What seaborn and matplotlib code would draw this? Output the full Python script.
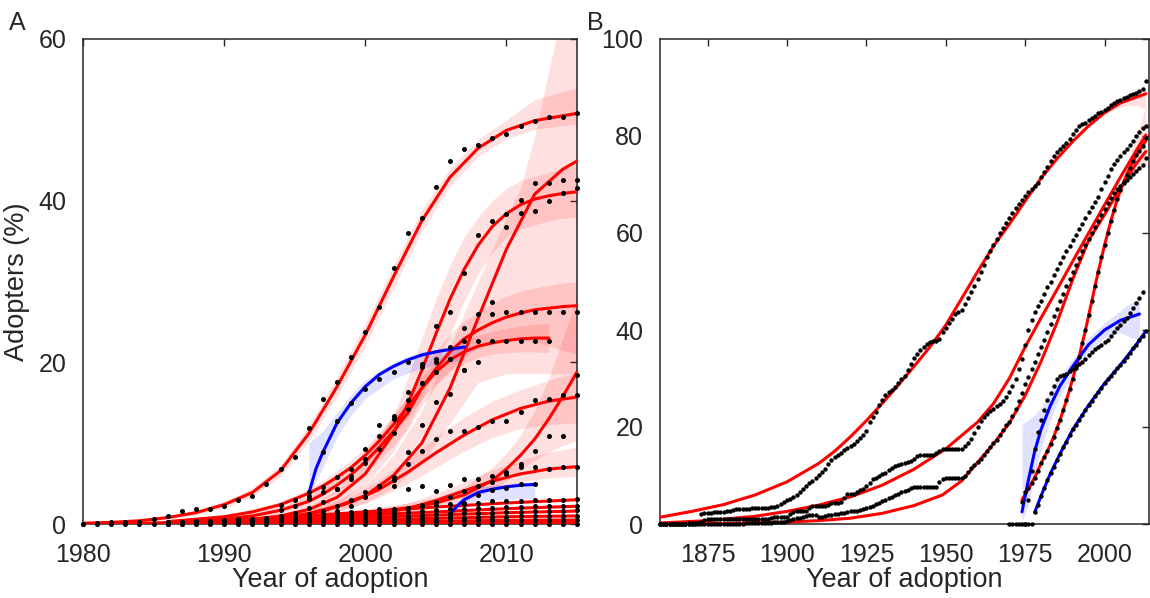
import numpy as np
import pandas as pd
import seaborn as sns
import matplotlib.pyplot as plt

# ---------------- Panel A : fitted curves (year, % adopters) ----------------
a1_x = [1980, 1982, 1984, 1986, 1988, 1990, 1992, 1994, 1996, 1998, 2000, 2002, 2004, 2006, 2008, 2010, 2012, 2014, 2015]
a1_y = [0.1, 0.2, 0.4, 0.8, 1.4, 2.4, 3.9, 6.6, 11.2, 17.0, 23.4, 30.6, 37.5, 42.9, 46.5, 48.7, 49.9, 50.5, 50.8]
a1_lo = [0.0, 0.1, 0.3, 0.6, 1.1, 2.0, 3.4, 5.9, 10.2, 15.8, 22.0, 29.2, 36.2, 41.8, 45.5, 47.7, 48.8, 49.3, 49.5]
a1_hi = [0.2, 0.3, 0.5, 1.0, 1.7, 2.8, 4.4, 7.3, 12.2, 18.2, 24.8, 32.0, 38.8, 44.0, 47.6, 50.0, 52.5, 53.5, 54.0]

a2_x = [1990, 1994, 1996, 1998, 2000, 2002, 2004, 2006, 2008, 2010, 2012, 2014, 2015]
a2_y = [0.3, 0.8, 1.3, 2.2, 3.5, 6.0, 10.0, 16.8, 25.5, 34.0, 40.8, 43.9, 44.9]
a2_bx = [1990, 1994, 1996, 1998, 2000, 2002, 2004, 2006, 2008, 2010, 2011, 2012, 2013, 2014, 2015]
a2_lo = [0.2, 0.5, 0.9, 1.6, 2.6, 4.5, 7.5, 12.5, 17.5, 18.6, 18.6, 18.6, 18.6, 18.6, 18.6]
a2_hi = [0.5, 1.1, 1.8, 3.0, 4.8, 8.5, 14.0, 22.0, 30.0, 38.0, 41.5, 48.0, 56.0, 64.0, 70.0]

a3_x = [1988, 1992, 1994, 1996, 1998, 2000, 2002, 2003, 2004, 2005, 2006, 2007, 2008, 2009, 2010, 2011, 2012, 2013, 2014, 2015]
a3_y = [0.2, 0.6, 1.0, 1.8, 3.3, 6.2, 11.2, 14.8, 19.0, 23.5, 27.8, 31.5, 34.5, 36.8, 38.4, 39.5, 40.2, 40.6, 40.9, 41.1]
a3_lo = [0.1, 0.4, 0.7, 1.3, 2.5, 4.8, 9.0, 12.0, 15.5, 19.5, 23.5, 27.5, 31.0, 33.5, 35.5, 36.5, 37.0, 37.5, 37.8, 38.0]
a3_hi = [0.3, 0.8, 1.3, 2.3, 4.2, 7.8, 13.5, 18.0, 23.0, 27.8, 32.0, 35.5, 38.0, 40.0, 41.5, 42.5, 43.0, 43.5, 44.0, 44.5]

a4_x = [1986, 1990, 1992, 1994, 1996, 1997, 1998, 1999, 2000, 2001, 2002, 2003, 2004, 2005, 2006, 2007, 2008, 2009, 2010, 2011, 2012, 2013, 2014, 2015]
a4_y = [0.2, 0.6, 1.0, 1.7, 2.8, 3.7, 4.8, 6.1, 7.7, 9.5, 11.5, 13.7, 16.8, 19.2, 21.3, 22.9, 24.0, 24.9, 25.6, 26.1, 26.5, 26.7, 26.9, 27.0]
a4_lo = [0.1, 0.4, 0.7, 1.3, 2.2, 2.9, 3.8, 4.9, 6.3, 7.9, 9.7, 11.7, 14.6, 17.0, 19.1, 20.7, 21.8, 22.5, 22.8, 22.8, 22.5, 22.0, 21.5, 21.0]
a4_hi = [0.3, 0.8, 1.3, 2.1, 3.4, 4.5, 5.8, 7.3, 9.1, 11.1, 13.3, 15.7, 19.0, 21.4, 23.5, 25.1, 26.2, 27.3, 28.2, 28.8, 29.2, 29.5, 29.8, 30.0]

a5_x = [1986, 1990, 1992, 1994, 1996, 1997, 1998, 1999, 2000, 2001, 2002, 2003, 2004, 2005, 2006, 2007, 2008, 2009, 2010, 2011, 2012, 2013]
a5_y = [0.3, 0.9, 1.5, 2.4, 3.8, 4.7, 5.8, 7.0, 8.5, 10.3, 12.3, 14.5, 16.8, 18.8, 20.3, 21.3, 22.0, 22.4, 22.7, 22.9, 23.0, 23.0]
a5_lo = [0.2, 0.7, 1.2, 2.0, 3.2, 4.0, 5.0, 6.1, 7.5, 9.2, 11.1, 13.2, 15.4, 17.4, 18.9, 19.9, 20.6, 21.0, 21.2, 21.3, 21.3, 21.2]
a5_hi = [0.4, 1.1, 1.8, 2.8, 4.4, 5.4, 6.6, 7.9, 9.5, 11.4, 13.5, 15.8, 18.2, 20.2, 21.7, 22.7, 23.4, 23.8, 24.2, 24.5, 24.7, 24.8]

a6_x = [1988, 1992, 1994, 1995, 1997, 1999, 2001, 2003, 2005, 2007, 2009, 2011, 2013, 2015]
a6_y = [0.2, 0.5, 0.7, 0.9, 1.6, 2.7, 4.3, 6.4, 8.8, 11.0, 12.9, 14.3, 15.2, 15.7]
a6_lo = [0.1, 0.3, 0.5, 0.6, 1.1, 2.0, 3.3, 5.0, 7.0, 9.0, 10.7, 11.8, 12.3, 12.5]
a6_hi = [0.3, 0.7, 0.9, 1.2, 2.1, 3.5, 5.5, 8.0, 10.8, 13.2, 15.2, 16.6, 17.8, 18.8]

a7_x = [1990, 1995, 2000, 2003, 2005, 2007, 2009, 2010, 2011, 2012, 2013, 2014, 2015]
a7_y = [0.3, 0.7, 1.4, 2.0, 2.6, 3.6, 5.4, 6.8, 8.5, 10.5, 13.0, 15.8, 18.8]
a7_lo = [0.2, 0.5, 1.0, 1.5, 2.0, 2.8, 4.2, 5.3, 6.6, 7.9, 8.9, 9.7, 10.3]
a7_hi = [0.4, 0.9, 1.8, 2.6, 3.3, 4.6, 7.0, 8.8, 11.0, 14.0, 18.0, 23.0, 28.0]

a8_x = [1988, 1992, 1995, 1997, 1999, 2001, 2003, 2005, 2007, 2009, 2011, 2013, 2015]
a8_y = [0.1, 0.2, 0.4, 0.6, 0.9, 1.3, 1.9, 2.9, 4.1, 5.3, 6.2, 6.8, 7.1]
a8_lo = [0.0, 0.1, 0.3, 0.4, 0.6, 0.9, 1.4, 2.2, 3.3, 4.4, 5.2, 5.7, 5.9]
a8_hi = [0.2, 0.3, 0.5, 0.8, 1.2, 1.8, 2.6, 3.8, 5.2, 6.7, 7.9, 8.9, 9.5]

low_x = [1980, 1985, 1990, 1995, 2000, 2005, 2010, 2015]
low1_y = [0.0, 0.1, 0.4, 0.9, 1.5, 2.1, 2.6, 3.0]
low2_y = [0.0, 0.1, 0.3, 0.7, 1.1, 1.5, 1.9, 2.2]
low3_y = [0.0, 0.05, 0.2, 0.5, 0.8, 1.1, 1.4, 1.6]
low4_y = [0.0, 0.02, 0.1, 0.3, 0.5, 0.7, 0.9, 1.0]
low5_y = [0.0, 0.01, 0.05, 0.15, 0.25, 0.35, 0.45, 0.5]
low6_y = [0.0, 0.0, 0.02, 0.05, 0.1, 0.13, 0.17, 0.2]

ab1_x = [1996, 1996.5, 1997, 1998, 1999, 2000, 2001, 2002, 2003, 2004, 2005, 2006, 2007]
ab1_y = [3.8, 6.8, 8.9, 12.5, 15.0, 17.0, 18.5, 19.5, 20.3, 20.9, 21.3, 21.6, 21.9]
ab1_bx = [1996, 1997, 1998, 1999, 2000, 2002, 2004, 2006, 2007]
ab1_lo = [3.5, 7.0, 10.8, 13.5, 15.5, 18.0, 19.3, 20.0, 20.3]
ab1_hi = [10.0, 11.5, 13.8, 16.0, 17.8, 20.0, 21.3, 21.9, 22.2]

ab2_x = [2006, 2006.5, 2007, 2008, 2009, 2010, 2011, 2012]
ab2_y = [1.2, 2.2, 3.0, 3.9, 4.3, 4.6, 4.8, 4.9]
ab2_bx = [2006, 2007, 2008, 2010, 2012]
ab2_lo = [0.8, 2.4, 2.9, 3.1, 3.1]
ab2_hi = [1.8, 3.6, 4.6, 5.0, 5.2]

# ---------------- Panel A : observed points ----------------
a1_dots = [0.0, 0.1, 0.2, 0.2, 0.3, 0.6, 1.0, 1.6, 1.9, 1.9,
           2.2, 3.0, 3.5, 4.9, 6.8, 8.3, 11.9, 15.5, 17.6, 20.7,
           23.8, 26.9, 31.7, 36.0, 37.8, 41.7, 44.9, 46.4, 46.9, 47.7,
           48.2, 49.2, 49.8, 50.4, 50.4, 50.8]                                   # 1980-2015
a2_dots = [0.4, 0.6, 0.9, 1.2, 1.6, 2.2, 3.4, 4.7, 5.5, 8.9, 12.2, 15.1, 16.1, 19.0,
           20.0, 27.5, 36.8, 38.5, 42.2, 42.2, 42.6, 42.6]                      # 1994-2015
a3_dots = [1.0, 1.4, 2.0, 2.7, 4.3, 5.6, 7.6, 10.9, 13.0, 16.3, 19.4, 24.5, 26.2, 31.0,
           35.8, 37.5, 38.3, 40.1, 38.7, 40.0, 41.0, 41.6]                      # 1994-2015
a4_dots = [1.7, 2.2, 3.1, 3.9, 4.3, 6.0, 8.0, 9.3, 11.3, 14.2, 17.5, 20.0, 21.9, 24.3,
           26.0, 26.0, 26.2, 26.2, 26.2, 26.2, 26.2, 26.2]                      # 1994-2015
a5_dots = [2.3, 3.0, 3.9, 4.6, 5.8, 6.8, 9.3, 12.2, 13.4, 15.3, 17.5, 18.8, 20.4, 22.7,
           22.7, 22.7, 22.7, 22.7, 22.7, 22.7]                                  # 1994-2013
a6_dots = [0.6, 0.8, 1.2, 1.6, 2.2, 3.0, 4.0, 4.7, 5.8, 7.4, 9.0, 10.5, 11.5, 11.5,
           12.0, 12.8, 12.8, 13.8, 15.3, 15.5, 15.9, 15.9]                      # 1994-2015
a7_dots = [1.2, 1.4, 1.7, 2.0, 2.3, 2.7, 3.3, 4.1, 4.7, 5.2, 6.2, 7.4, 9.0, 10.9,
           10.9, 18.4]                                                          # 2000-2015
a8_dots = [0.3, 0.4, 0.6, 0.8, 1.0, 1.3, 4.7, 4.3, 4.7, 4.1, 4.8, 5.6, 5.6, 6.0,
           6.4, 7.0, 7.1, 6.8, 7.0, 7.0]                                        # 1996-2015
ab1_dots = [3.5, 8.9, 12.8, 15.0, 16.7, 17.9, 18.8, 20.0, 19.8, 20.4, 20.4, 19.0]  # 1996-2007
ab2_dots = [1.0, 2.5, 3.6, 4.2, 4.5, 4.9, 4.9]                                # 2006-2012
low1_dots = [0.3, 0.3, 0.4, 0.4, 0.5, 0.6, 0.6, 0.8, 0.9, 1.0, 1.1, 1.2, 1.3, 1.5, 1.6,
             1.9, 1.8, 2.0, 2.2, 2.3, 2.5, 2.6, 2.6, 2.8, 2.9, 2.9, 3.0, 3.0, 3.0, 3.1]  # 1986-2015
low2_dots = [0.2, 0.2, 0.3, 0.3, 0.3, 0.4, 0.5, 0.6, 0.7, 0.7, 0.8, 0.9, 1.0, 1.1, 1.2,
             1.3, 1.4, 1.5, 1.6, 1.7, 1.8, 1.9, 2.0, 2.0, 2.1, 2.1, 2.2, 2.2, 2.2, 2.2]
low3_dots = [0.1, 0.1, 0.2, 0.2, 0.2, 0.3, 0.3, 0.4, 0.4, 0.5, 0.5, 0.6, 0.7, 0.8, 0.8,
             0.9, 1.0, 1.0, 1.1, 1.2, 1.3, 1.3, 1.4, 1.4, 1.5, 1.5, 1.6, 1.6, 1.6, 1.7]
low4_dots = [0.0, 0.0, 0.1, 0.1, 0.1, 0.1, 0.2, 0.2, 0.3, 0.3, 0.3, 0.4, 0.4, 0.5, 0.5,
             0.6, 0.6, 0.7, 0.7, 0.7, 0.8, 0.8, 0.9, 0.9, 0.9, 1.0, 1.0, 1.0, 1.0, 1.0]
low5_dots = [0.0, 0.1, 0.1, 0.1, 0.1, 0.2, 0.2, 0.2, 0.2, 0.3, 0.3, 0.3, 0.3, 0.3, 0.4,
             0.4, 0.4, 0.4, 0.4, 0.4, 0.5, 0.5, 0.5, 0.5, 0.5, 0.5, 0.5, 0.5, 0.5, 0.5]
zero_dots = [0.0, 0.0, 0.0, 0.0, 0.0, 0.0, 0.0, 0.0, 0.0, 0.0, 0.0, 0.0, 0.0, 0.0, 0.0, 0.0, 0.0, 0.0,
             0.0, 0.0, 0.0, 0.0, 0.0, 0.0, 0.0, 0.0, 0.0, 0.0, 0.0, 0.0, 0.0, 0.0, 0.0, 0.0, 0.0, 0.0]  # 1980-2015

# ---------------- Panel B : fitted curves ----------------
b1_fx = [1860, 1870, 1880, 1890, 1900, 1910, 1915, 1920, 1925, 1930, 1935, 1940, 1945, 1950,
         1955, 1960, 1965, 1970, 1975, 1980, 1985, 1990, 1995, 2000, 2005, 2010, 2013]
b1_fy = [1.4, 2.6, 4.0, 6.0, 8.7, 12.5, 15.0, 18.0, 21.3, 24.9, 28.6, 32.5, 36.5, 41.0,
         46.5, 52.0, 57.3, 61.8, 66.6, 71.3, 75.3, 78.9, 82.1, 84.8, 86.8, 88.0, 88.7]
b2_fx = [1860, 1875, 1890, 1900, 1910, 1920, 1930, 1940, 1950, 1960, 1965, 1970, 1975, 1980,
         1985, 1990, 1995, 2000, 2005, 2010, 2013]
b2_fy = [0.2, 0.7, 1.6, 2.6, 3.9, 5.6, 8.0, 11.3, 15.5, 21.0, 24.8, 30.0, 36.5, 42.5,
         48.3, 54.2, 60.0, 65.8, 71.5, 77.0, 80.2]
b3_fx = [1860, 1880, 1900, 1910, 1920, 1930, 1940, 1949, 1955, 1960, 1965, 1970, 1975, 1980,
         1985, 1990, 1995, 2000, 2005, 2010, 2013]
b3_fy = [0.0, 0.1, 0.4, 0.7, 1.2, 2.2, 3.8, 6.0, 8.9, 12.7, 16.5, 20.8, 26.5, 33.5,
         41.5, 50.5, 58.5, 63.8, 69.3, 74.3, 76.8]
b4_fx = [1974, 1976, 1978, 1980, 1982, 1984, 1986, 1988, 1990, 1992, 1994, 1996, 1998, 2000,
         2002, 2004, 2006, 2008, 2010, 2012, 2013]
b4_fy = [5.0, 7.2, 9.6, 12.5, 15.0, 18.0, 21.5, 25.5, 30.0, 34.5, 40.0, 46.0, 52.0, 57.5,
         62.5, 67.0, 70.5, 73.5, 76.0, 78.0, 79.0]
b5_fx = [1974, 1976, 1978, 1980, 1983, 1986, 1990, 1995, 2000, 2005, 2011]
b5_fy = [2.5, 9.0, 15.0, 19.5, 24.5, 28.5, 32.5, 37.0, 40.0, 42.0, 43.3]
b6_fx = [1978, 1980, 1983, 1986, 1990, 1995, 2000, 2005, 2010, 2013]
b6_fy = [2.4, 5.8, 10.5, 14.5, 19.5, 24.5, 29.0, 32.8, 37.0, 39.8]

b5_bx = [1974, 1976, 1978, 1980, 1983, 1986, 1990, 1995, 2000, 2005, 2008, 2011]
b5_lo = [0.5, 4.0, 10.0, 15.5, 21.5, 26.5, 31.0, 35.5, 38.5, 39.5, 38.5, 38.0]
b5_hi = [20.5, 21.5, 22.5, 24.0, 27.5, 30.5, 34.0, 38.5, 41.5, 44.0, 45.5, 46.5]
b1_bx = [1995, 2000, 2005, 2010, 2013]
b1_lo = [81.8, 84.4, 86.0, 86.3, 85.5]
b1_hi = [82.4, 85.2, 87.4, 88.8, 89.6]
b4_bx = [2000, 2004, 2008, 2010, 2013]
b4_lo = [57.0, 66.0, 72.0, 73.0, 74.0]
b4_hi = [58.0, 68.0, 76.0, 80.0, 86.0]

# ---------------- Panel B : observed points (one per year) ----------------
b1_dots = [0.0, 0.0, 0.0, 0.0, 0.0, 0.0, 0.0, 0.0, 0.0, 0.3,
           0.3, 0.3, 0.3, 2.0, 2.2, 2.2, 2.3, 2.4, 2.4, 2.5,
           2.5, 2.6, 2.6, 2.8, 3.0, 3.0, 3.0, 3.0, 3.1, 3.2,
           3.2, 3.2, 3.3, 3.3, 3.4, 3.5, 3.6, 3.8, 4.2, 4.6,
           5.0, 5.2, 5.5, 6.0, 6.6, 7.3, 7.9, 8.4, 8.9, 9.5,
           10.2, 10.7, 11.3, 12.3, 13.2, 13.8, 14.2, 14.7, 15.2, 15.6,
           16.0, 16.5, 17.1, 17.8, 18.4, 19.2, 21.0, 22.0, 23.0, 24.6,
           25.6, 26.6, 27.2, 27.6, 28.2, 29.0, 29.8, 30.6, 31.8, 33.0,
           34.2, 35.0, 35.8, 36.5, 37.2, 37.5, 37.7, 37.8, 38.2, 39.5,
           40.4, 41.5, 42.3, 43.2, 43.8, 44.2, 45.3, 46.5, 47.8, 49.0,
           50.5, 52.0, 53.5, 55.0, 56.3, 57.6, 58.8, 60.0, 61.0, 62.0,
           63.0, 64.2, 65.2, 66.0, 66.9, 67.6, 68.4, 69.0, 69.6, 70.4,
           71.5, 72.6, 73.7, 74.8, 75.8, 76.6, 77.4, 77.9, 78.5, 79.4,
           80.4, 81.2, 82.0, 82.5, 82.7, 83.2, 83.8, 84.2, 84.7, 85.0,
           85.3, 85.8, 86.3, 86.8, 87.2, 87.5, 87.8, 88.1, 88.4, 88.6,
           88.9, 89.2, 89.6, 91.3]                                              # 1860-2013
b2_dots = [0.0, 0.0, 0.0, 0.0, 0.0, 0.0, 0.0, 0.0, 0.0, 0.0,
           0.0, 0.0, 0.3, 0.5, 0.8, 1.0, 1.0, 1.0, 1.0, 1.0,
           1.0, 1.0, 1.0, 1.0, 1.0, 1.0, 1.0, 1.0, 1.0, 1.0,
           1.0, 1.0, 1.0, 1.0, 1.0, 1.2, 1.4, 1.4, 1.4, 1.4,
           1.5, 2.0, 2.5, 2.7, 2.7, 2.7, 2.7, 3.3, 3.8, 3.8,
           3.8, 3.8, 3.8, 4.0, 4.3, 4.3, 4.3, 4.5, 5.3, 6.2,
           6.2, 6.2, 6.5, 7.0, 7.3, 7.9, 8.5, 9.3, 9.5, 9.8,
           10.3, 10.5, 11.2, 11.6, 12.0, 12.2, 12.4, 12.6, 12.8, 13.0,
           13.5, 14.0, 14.2, 14.2, 14.2, 14.2, 14.2, 14.6, 15.0, 15.4,
           15.5, 15.5, 15.5, 15.5, 15.5, 15.5, 16.0, 16.8, 17.6, 18.8,
           20.0, 21.2, 22.0, 22.7, 23.2, 23.8, 24.3, 24.8, 25.4, 26.2,
           27.2, 28.5, 30.0, 32.0, 34.0, 37.0, 40.0, 42.0, 43.8, 45.0,
           46.0, 47.5, 48.8, 50.0, 51.3, 52.5, 53.8, 55.0, 56.2, 57.4,
           58.5, 59.6, 60.8, 61.9, 63.1, 64.3, 65.3, 66.4, 67.5, 69.0,
           70.5, 71.8, 73.2, 74.2, 75.0, 75.8, 76.6, 77.4, 78.2, 79.0,
           80.0, 80.8, 81.6, 82.0]                                              # 1860-2013
b3_dots = [0.0, 0.0, 0.0, 0.0, 0.0, 0.0, 0.0, 0.0, 0.0, 0.0,
           0.0, 0.0, 0.0, 0.0, 0.0, 0.0, 0.0, 0.0, 0.0, 0.0,
           0.0, 0.0, 0.0, 0.0, 0.0, 0.0, 0.0, 0.2, 0.2, 0.2,
           0.2, 0.3, 0.3, 0.3, 0.3, 0.3, 0.4, 0.5, 0.5, 0.5,
           0.6, 0.8, 1.0, 1.2, 1.3, 1.5, 1.7, 1.9, 1.9, 1.9,
           1.5, 1.5, 1.6, 1.8, 1.9, 2.0, 2.1, 2.2, 2.3, 2.5,
           2.6, 2.6, 2.7, 2.8, 3.0, 3.2, 3.5, 3.8, 4.1, 4.4,
           4.7, 5.0, 5.3, 5.6, 5.9, 6.2, 6.5, 6.8, 7.1, 7.4,
           7.6, 7.6, 7.6, 7.6, 7.6, 7.6, 7.6, 7.6, 8.7, 9.3,
           9.5, 9.5, 9.5, 9.5, 9.5, 9.5, 10.0, 10.8, 11.5, 12.2,
           12.8, 13.5, 14.2, 15.0, 15.8, 16.6, 17.4, 18.4, 19.4, 20.5,
           21.0, 22.3, 23.8, 25.3, 27.0, 28.8, 30.4, 32.0, 33.5, 35.0,
           36.5, 38.0, 39.6, 41.2, 42.8, 44.4, 46.0, 47.5, 49.0, 50.5,
           52.0, 53.4, 54.8, 56.2, 57.5, 58.8, 60.0, 61.3, 62.5, 63.8,
           65.0, 66.2, 67.3, 68.3, 69.0, 69.6, 70.3, 70.9, 71.5, 72.2,
           72.8, 73.3, 74.0, 75.5]                                              # 1860-2013
b4_dots = [4.5, 6.5, 7.5, 8.5, 9.5, 11.0,
           12.5, 13.8, 15.0, 16.5, 18.0, 19.8, 21.5, 23.5, 25.5, 27.8,
           30.0, 32.2, 34.5, 37.3, 40.0, 43.0, 46.0, 49.0, 52.0, 55.0,
           57.5, 60.0, 62.5, 64.8, 67.0, 68.8, 70.5, 72.0, 73.5, 74.8,
           76.0, 77.0, 78.0, 79.5]                                              # 1974-2013
b5_dots = [0.0, 0.0, 0.0, 0.0, 0.0, 0.0, 5.0, 11.0, 15.5, 19.0,
           21.5, 23.5, 25.5, 27.0, 28.5, 30.0, 30.5, 30.8, 31.0, 31.5,
           32.0, 32.5, 33.0, 33.5, 34.0, 34.8, 35.5, 36.0, 36.5, 37.0,
           37.5, 38.0, 38.8, 39.5, 40.5, 41.0, 41.8, 42.5, 43.5, 44.5,
           45.5, 46.5, 47.8]                                                    # 1970-2012
b6_dots = [0.0, 0.0, 0.0, 2.4, 4.0,
           5.8, 7.5, 9.0, 10.5, 11.8, 13.2, 14.5, 15.8, 17.0, 18.3,
           19.5, 20.5, 21.5, 22.5, 23.5, 24.5, 25.4, 26.3, 27.2, 28.1,
           29.0, 29.8, 30.6, 31.4, 32.1, 32.8, 33.6, 34.5, 35.3, 36.2,
           37.0, 37.9, 38.8, 39.8]                                              # 1975-2013

RED, BLUE = "#ff0000", "#0000ff"

sns.set_style("white")
plt.rcParams["font.family"] = ["Liberation Sans", "DejaVu Sans"]

fig = plt.figure(figsize=(11.5, 5.98), dpi=100)
axA = fig.add_axes([83 / 1150, 74 / 598, 494 / 1150, 485 / 598])
axB = fig.add_axes([660 / 1150, 74 / 598, 489 / 1150, 485 / 598])


def band(ax, x, lo, hi, color):
    ax.fill_between(x, lo, hi, color=color, alpha=0.12, lw=0, zorder=1)


def curve(ax, x, y, color):
    sns.lineplot(x=x, y=y, color=color, lw=2.2, ax=ax, legend=False, zorder=3)


def dots(ax, start, vals, s):
    yrs = np.arange(start, start + len(vals))
    sns.scatterplot(x=yrs, y=vals, color="black", s=s, linewidth=0, ax=ax,
                    legend=False, zorder=4, clip_on=False)


# ---- panel A ----
for x, lo, hi in [(a1_x, a1_lo, a1_hi), (a2_bx, a2_lo, a2_hi), (a3_x, a3_lo, a3_hi),
                  (a4_x, a4_lo, a4_hi), (a5_x, a5_lo, a5_hi), (a6_x, a6_lo, a6_hi),
                  (a7_x, a7_lo, a7_hi), (a8_x, a8_lo, a8_hi)]:
    band(axA, x, lo, hi, RED)
band(axA, ab1_bx, ab1_lo, ab1_hi, BLUE)
band(axA, ab2_bx, ab2_lo, ab2_hi, BLUE)

for x, y in [(a1_x, a1_y), (a2_x, a2_y), (a3_x, a3_y), (a4_x, a4_y), (a5_x, a5_y),
             (a6_x, a6_y), (a7_x, a7_y), (a8_x, a8_y),
             (low_x, low1_y), (low_x, low2_y), (low_x, low3_y),
             (low_x, low4_y), (low_x, low5_y), (low_x, low6_y)]:
    curve(axA, x, y, RED)
curve(axA, ab1_x, ab1_y, BLUE)
curve(axA, ab2_x, ab2_y, BLUE)

sA = 13
dots(axA, 1980, a1_dots, sA)
dots(axA, 1994, a2_dots, sA)
dots(axA, 1994, a3_dots, sA)
dots(axA, 1994, a4_dots, sA)
dots(axA, 1994, a5_dots, sA)
dots(axA, 1994, a6_dots, sA)
dots(axA, 2000, a7_dots, sA)
dots(axA, 1996, a8_dots, sA)
dots(axA, 1996, ab1_dots, sA)
dots(axA, 2006, ab2_dots, sA)
for d in [low1_dots, low2_dots, low3_dots, low4_dots, low5_dots]:
    dots(axA, 1986, d, sA)
dots(axA, 1980, zero_dots, sA)

# ---- panel B ----
band(axB, b5_bx, b5_lo, b5_hi, BLUE)
band(axB, b1_bx, b1_lo, b1_hi, RED)
band(axB, b4_bx, b4_lo, b4_hi, RED)
for x, y in [(b1_fx, b1_fy), (b2_fx, b2_fy), (b3_fx, b3_fy), (b4_fx, b4_fy)]:
    curve(axB, x, y, RED)
curve(axB, b5_fx, b5_fy, BLUE)
curve(axB, b6_fx, b6_fy, BLUE)

sB = 10
dots(axB, 1860, b1_dots, sB)
dots(axB, 1860, b2_dots, sB)
dots(axB, 1860, b3_dots, sB)
dots(axB, 1974, b4_dots, sB)
dots(axB, 1970, b5_dots, sB)
dots(axB, 1975, b6_dots, sB)

# ---- axes styling ----
axA.set_xlim(1980, 2015)
axA.set_ylim(0, 60)
axA.set_xticks([1980, 1990, 2000, 2010])
axA.set_yticks([0, 20, 40, 60])
axB.set_xlim(1860, 2014)
axB.set_ylim(0, 100)
axB.set_xticks([1875, 1900, 1925, 1950, 1975, 2000])
axB.set_yticks([0, 20, 40, 60, 80, 100])

for ax in (axA, axB):
    ax.tick_params(direction="in", length=5, width=1, colors="#262626",
                   top=True, right=True, labelsize=18)
    ax.tick_params(axis="x", pad=13.5)
    ax.tick_params(axis="y", pad=12)
    for sp in ax.spines.values():
        sp.set_color("#262626")
        sp.set_linewidth(1.1)
        sp.set_zorder(2)
    ax.set_xlabel("Year of adoption", fontsize=19.5, color="#262626")
    ax.xaxis.set_label_coords(0.5, -0.088)
    ax.set_ylabel("")

axA.set_ylabel("Adopters (%)", fontsize=19.5, color="#262626")
axA.yaxis.set_label_coords(-0.107, 0.5)

fig.text(9 / 1150, 1 - 30 / 598, "A", fontsize=18, color="#262626", va="baseline")
fig.text(587 / 1150, 1 - 30 / 598, "B", fontsize=18, color="#262626", va="baseline")

fig.savefig("out.png", dpi=100)
